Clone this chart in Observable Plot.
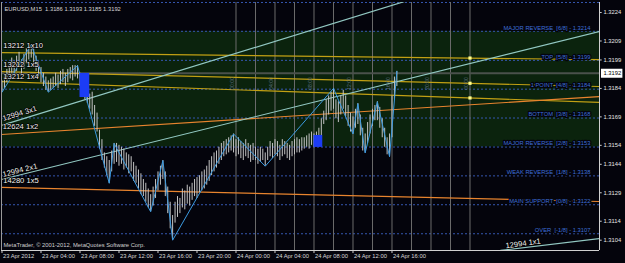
<!DOCTYPE html>
<html><head><meta charset="utf-8">
<script src="https://cdn.jsdelivr.net/npm/d3@7"></script>
<script src="https://cdn.jsdelivr.net/npm/@observablehq/plot@0.6"></script>
<style>
html,body{margin:0;padding:0;background:#04040c;}
#chart{width:625px;height:263px;overflow:hidden;}
</style></head><body><div id="chart"></div>
<script>
// ---------- data ----------
const headerText = "EURUSD,M15  1.3186 1.3193 1.3185 1.3192";
const copyrightText = "MetaTrader, \u00a9 2001-2012, MetaQuotes Software Corp.";

// 15-minute bars (index 0 = 23 Apr 2012 00:00)
const high = [1.3188,1.3190,1.3194,1.3197,1.3200,1.3198,1.3201,1.3203,1.3199,1.3202,
1.3205,1.3206,1.3207,1.3205,1.3201,1.3198,1.3195,1.3192,1.3190,1.3188,
1.3189,1.3190,1.3192,1.3191,1.3193,1.3194,1.3192,1.3194,1.3195,1.3196,
1.3196,1.3196,1.3192,1.3189,1.3186,1.3183,1.3181,1.3182,1.3175,1.3171,
1.3162,1.3157,1.3150,1.3148,1.3146,1.3151,1.3155,1.3155,1.3154,1.3153,
1.3152,1.3150,1.3149,1.3148,1.3145,1.3143,1.3141,1.3139,1.3136,1.3134,
1.3131,1.3128,1.3132,1.3136,1.3140,1.3143,1.3146,1.3140,1.3132,1.3124,
1.3117,1.3124,1.3127,1.3126,1.3131,1.3130,1.3133,1.3132,1.3134,1.3136,
1.3137,1.3138,1.3140,1.3141,1.3143,1.3146,1.3148,1.3150,1.3151,1.3153,
1.3155,1.3156,1.3157,1.3158,1.3159,1.3160,1.3157,1.3158,1.3156,1.3155,
1.3157,1.3155,1.3154,1.3155,1.3153,1.3152,1.3153,1.3152,1.3150,1.3153,
1.3156,1.3155,1.3157,1.3156,1.3154,1.3157,1.3156,1.3155,1.3154,1.3156,
1.3157,1.3158,1.3157,1.3158,1.3158,1.3159,1.3160,1.3161,1.3160,1.3161,
1.3163,1.3168,1.3172,1.3178,1.3180,1.3182,1.3184,1.3178,1.3177,1.3180,
1.3183,1.3180,1.3175,1.3171,1.3169,1.3173,1.3176,1.3170,1.3163,1.3160,
1.3166,1.3170,1.3173,1.3175,1.3177,1.3174,1.3168,1.3163,1.3158,1.3160,
1.3180,1.3190,1.3193];
const low = [1.3182,1.3184,1.3187,1.3189,1.3192,1.3190,1.3193,1.3195,1.3191,1.3194,
1.3197,1.3199,1.3200,1.3196,1.3193,1.3190,1.3187,1.3185,1.3183,1.3182,
1.3183,1.3184,1.3185,1.3184,1.3186,1.3187,1.3185,1.3187,1.3189,1.3188,
1.3190,1.3189,1.3185,1.3181,1.3178,1.3176,1.3173,1.3170,1.3164,1.3161,
1.3152,1.3146,1.3142,1.3138,1.3134,1.3140,1.3144,1.3145,1.3143,1.3144,
1.3141,1.3142,1.3139,1.3140,1.3135,1.3134,1.3131,1.3128,1.3127,1.3124,
1.3121,1.3119,1.3122,1.3126,1.3130,1.3133,1.3136,1.3127,1.3118,1.3110,
1.3104,1.3113,1.3116,1.3118,1.3121,1.3120,1.3123,1.3122,1.3125,1.3127,
1.3126,1.3129,1.3130,1.3131,1.3133,1.3135,1.3138,1.3140,1.3142,1.3144,
1.3146,1.3148,1.3149,1.3150,1.3151,1.3150,1.3148,1.3149,1.3147,1.3146,
1.3148,1.3147,1.3145,1.3146,1.3146,1.3144,1.3145,1.3146,1.3143,1.3146,
1.3148,1.3147,1.3149,1.3148,1.3146,1.3148,1.3149,1.3147,1.3146,1.3148,
1.3149,1.3150,1.3150,1.3151,1.3152,1.3153,1.3152,1.3154,1.3153,1.3154,
1.3155,1.3158,1.3165,1.3167,1.3170,1.3172,1.3173,1.3168,1.3166,1.3170,
1.3173,1.3169,1.3164,1.3161,1.3160,1.3163,1.3165,1.3159,1.3151,1.3150,
1.3155,1.3160,1.3164,1.3167,1.3167,1.3163,1.3158,1.3153,1.3149,1.3148,
1.3158,1.3178,1.3185];

// ZigZag pivots
const zzBar   = [0,12,19,31,44,46,61,66,70,95,108,136,144,146,149,154,159,162];
const zzPrice = [1.3182,1.3207,1.3182,1.3196,1.3134,1.3155,1.3119,1.3146,1.3104,1.3160,1.3143,1.3184,1.3160,1.3176,1.3150,1.3177,1.3148,1.3193];

// Murrey math levels
const levels = [1.32293,1.32141,1.31988,1.31836,1.31684,1.31531,1.31379,1.31227,1.31074];
const levelLabels = ["", "MAJOR REVERSE  [6/8] - 1.3214","TOP  [5/8] - 1.3199","1 POINT  [4/8] - 1.3184",
  "BOTTOM  [3/8] - 1.3168","MAJOR REVERSE  [2/8] - 1.3153","WEAK REVERSE  [1/8] - 1.3138",
  "MAIN SUPPORT  [0/8] - 1.3122","OVER  [-1/8] - 1.3107"];

// Gann / trend lines
const gannKind  = ["gold","gold","gold","orange","orange","teal","teal","teal"];
const gannBar1  = [-0.2,-0.2,-0.2,-0.2,-0.2,-0.2,-0.2,204.5];
const gannP1    = [1.32029,1.31929,1.31876,1.31597,1.31318,1.31645,1.31360,1.30986];
const gannBar2  = [245.1,245.1,245.1,245.1,245.1,245.1,245.1,245.1];
const gannP2    = [1.31992,1.31850,1.31766,1.31797,1.31244,1.32614,1.32140,1.31049];

// Gann labels
const gLabelText  = ["13212 1x10","13212 1x5","13212 1x4","12994 3x1","12624 1x2","12994 2x1","14280 1x5","12994 1x1"];
const gLabelBar   = [0.5,0.5,0.5,0.3,0.3,0.3,0.5,206.6];
const gLabelPrice = [1.32066,1.31966,1.31903,1.31681,1.31640,1.31386,1.31355,1.31010];
const gLabelAngle = [0,0,0,-17,0,-14,0,-8];

// blue boxes
const boxBar1 = [32.0,128.0], boxBar2 = [36.0,131.6];
const boxP1 = [1.31919,1.31592], boxP2 = [1.31792,1.31529];

// vertical session lines
const vlineBars = [96,104,112,120,128,136,144,152,160,168,176,184,192];
const vlabelBars = [96,112,128,144,160,176,192];
const vlabelText = ["00:00","04:00","08:00","12:00","16:00","20:00","00:00"];
const vlabelPrice = 1.31866;
const markerBar = 192;

// axes
const priceTicks = [1.3224,1.3209,1.3199,1.3184,1.3169,1.3154,1.3144,1.3129,1.3114,1.3104];
const currentPrice = 1.3192;
const timeBars = [0,16,32,48,64,80,96,112,128,144,160];
const timeLabels = ["23 Apr 2012","23 Apr 04:00","23 Apr 08:00","23 Apr 12:00","23 Apr 16:00","23 Apr 20:00",
  "24 Apr 00:00","24 Apr 04:00","24 Apr 08:00","24 Apr 12:00","24 Apr 16:00"];

// ---------- chart ----------
const xDom = [-0.205, 245.13];
const yDom = [1.309857, 1.322929];
const bars = high.map((h,i)=>({i, h, l: low[i]}));
const zz = zzBar.map((b,k)=>({b, p: zzPrice[k]}));
const gann = gannKind.map((k,j)=>({k, x1: gannBar1[j], y1: gannP1[j], x2: gannBar2[j], y2: gannP2[j]}));
const gannColor = {gold:"#c2a014", orange:"#e8842e", teal:"#92c8c2"};
const lvl = levels.map((v,k)=>({v, t: levelLabels[k]})).filter(d=>d.t);
const boxes = boxBar1.map((b,k)=>({x1:b, x2:boxBar2[k], y1:boxP1[k], y2:boxP2[k]}));
const gl = gLabelText.map((t,k)=>({t, b:gLabelBar[k], p:gLabelPrice[k], a:gLabelAngle[k]}));
const markers = gann.filter(d=>d.k==="gold").map(d=>({b: markerBar, p: d.y1 + (d.y2-d.y1)*(markerBar-d.x1)/(d.x2-d.x1)}));
const FONT = 5.8;

const marks = [
  Plot.rect([0], {x1: ()=>xDom[0], x2: ()=>xDom[1], y1: ()=>levels[5], y2: ()=>levels[1], fill: "#0b230d"}),
  Plot.ruleY(levels, {stroke: "#3557b0", strokeDasharray: "2,2"}),
  Plot.ruleX(vlineBars, {stroke: "#6c6c6c"}),
  Plot.ruleY([currentPrice], {stroke: "#4a514b", strokeWidth: 2}),
];
for (const k of ["gold","orange","teal"]) {
  marks.push(Plot.link(gann.filter(d=>d.k===k), {x1:"x1", y1:"y1", x2:"x2", y2:"y2", stroke: gannColor[k], strokeWidth: 1.2, clip: true}));
}
marks.push(
  Plot.ruleX(bars, {x: "i", y1: "l", y2: "h", stroke: "#c4c4c4"}),
  Plot.line(zz, {x: "b", y: "p", stroke: "#3b9ae0", strokeWidth: 1}),
  Plot.rect(boxes, {x1:"x1", x2:"x2", y1:"y1", y2:"y2", fill: "#1c3cf5"}),
  Plot.dot(markers, {x:"b", y:"p", symbol: "square", r: 1.8, fill: "#ffff8c"}),
  Plot.text(vlabelText, {x: (d,k)=>vlabelBars[k], y: ()=>vlabelPrice, text: d=>d, rotate: -90, dx: -3.5, fontSize: 5, fill: "#5d6e80"}),
  Plot.text(lvl, {y: "v", text: "t", frameAnchor: "right", textAnchor: "end", dx: -9, dy: -3.6, fontSize: FONT, fill: "#3e6fd8", stroke: "#04040c", strokeWidth: 2.5}),
  Plot.text(gl, {x: "b", y: "p", text: "t", rotate: "a", textAnchor: "start", fontSize: 7.6, fill: "#f2f2f2", stroke: "#000", strokeWidth: 1.5}),
  Plot.text([headerText], {frameAnchor: "top-left", dx: 3, dy: 4.5, textAnchor: "start", fontSize: FONT, fill: "#d4d4d4"}),
  Plot.text([copyrightText], {frameAnchor: "bottom-left", dx: 2, dy: -3.5, textAnchor: "start", fontSize: FONT, fill: "#d0d0d0"}),
  // borders
  Plot.ruleX([xDom[0]], {stroke: "#9a9a9a"}),
  Plot.ruleX([xDom[1]], {stroke: "#d0d0d0"}),
  Plot.ruleY([yDom[0]], {stroke: "#d0d0d0"}),
  // right price axis
  Plot.ruleY(priceTicks, {x1: ()=>xDom[1], x2: ()=>xDom[1]+1.1, stroke: "#d0d0d0"}),
  Plot.text(priceTicks, {y: d=>d, text: d=>d.toFixed(4), frameAnchor: "right", textAnchor: "start", dx: 4, fontSize: FONT, fill: "#e4e4e4"}),
  Plot.ruleY([currentPrice], {x1: ()=>xDom[1]+0.8, x2: ()=>xDom[1]+9.6, stroke: "#ffffff", strokeWidth: 9}),
  Plot.text([currentPrice], {y: d=>d, text: d=>d.toFixed(4), frameAnchor: "right", textAnchor: "start", dx: 4, fontSize: FONT, fill: "#000"}),
  // bottom time axis
  Plot.ruleX(timeBars, {y1: ()=>yDom[0], y2: ()=>yDom[0]-0.00016, stroke: "#d0d0d0"}),
  Plot.text(timeLabels, {x: (d,k)=>timeBars[k], text: d=>d, frameAnchor: "bottom", textAnchor: "start", dx: 1, dy: 7, fontSize: FONT, fill: "#d8d8d8"})
);

const chart = Plot.plot({
  width: 625, height: 263,
  marginTop: 2, marginRight: 26, marginBottom: 13, marginLeft: 1,
  x: {domain: xDom, axis: null},
  y: {domain: yDom, axis: null},
  style: {background: "#04040c", fontFamily: "'Liberation Sans', Arial, sans-serif", overflow: "visible"},
  marks
});
document.getElementById("chart").appendChild(chart);
</script></body></html>
